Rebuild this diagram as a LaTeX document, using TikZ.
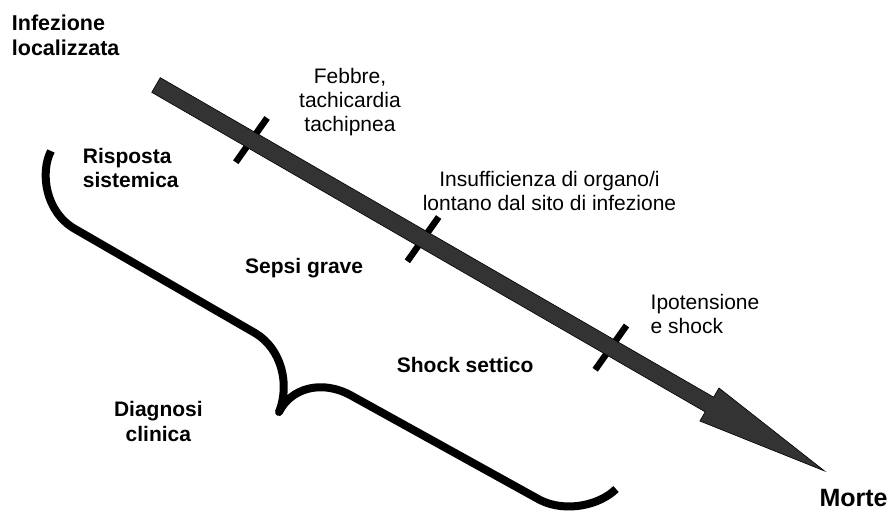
\documentclass[tikz,border=0pt]{standalone}
\usepackage{fontspec}
\setmainfont{Liberation Sans}
\begin{document}
\begin{tikzpicture}[x=1pt,y=-1pt,
  lbl/.style={inner sep=0pt, font=\fontsize{21}{25}\selectfont},
  blbl/.style={inner sep=0pt, font=\fontsize{21}{25}\selectfont\bfseries},
  tickbar/.style={line width=6.5pt, draw=black},
  bracepath/.style={line width=8pt, line join=round, draw=black},
  arrowbody/.style={fill=black!80, draw=black, line width=0.6pt, line join=miter}]
\useasboundingbox (0,0) rectangle (891,516);
% main arrow with ticks
\begin{scope}[shift={(156,85)}, rotate=-30]
  \coordinate (t1a) at (112.7,-27); \coordinate (t1b) at (107.7,27);
  \coordinate (t2a) at (310.8,-27); \coordinate (t2b) at (305.8,27);
  \coordinate (t3a) at (527.7,-27); \coordinate (t3b) at (522.7,27);
  \draw[tickbar] (t1a) -- (t1b);
  \draw[tickbar] (t2a) -- (t2b);
  \draw[tickbar] (t3a) -- (t3b);
  \coordinate (tip) at (772,0);
  \filldraw[arrowbody] (0,-8.5) -- (639,-8.5) -- (639,-19.1) -- (tip) -- (639,19.1) -- (639,8.5) -- (0,8.5) -- cycle;
\end{scope}
% brace
\coordinate (b0) at (51,151);
\coordinate (b1) at (75,229);
\coordinate (b2) at (255,333);
\coordinate (btip) at (279,412);
\coordinate (b3) at (352,396);
\coordinate (b4) at (540,500);
\coordinate (b5) at (616,489);
\draw[bracepath] (b0) .. controls (40,172) and (45,212) .. (b1) -- (b2)
  .. controls (282,349) and (290,385) .. (btip)
  .. controls (291,388) and (322,379) .. (b3) -- (b4)
  .. controls (566,513) and (600,505) .. (b5);
% labels
\node[blbl, anchor=base west, font=\fontsize{21.5}{25}\selectfont\bfseries] (inf1) at (11.7,30.7) {Infezione};
\node[blbl, anchor=base west, font=\fontsize{21.5}{25}\selectfont\bfseries] (inf2) at (11.7,56) {localizzata};
\node[lbl, anchor=base] (feb1) at (350,83.3) {Febbre,};
\node[lbl, anchor=base] (feb2) at (350,107.5) {tachicardia};
\node[lbl, anchor=base] (feb3) at (350,131.5) {tachipnea};
\node[lbl, anchor=base] (ins1) at (549.5,186) {Insufficienza di organo/i};
\node[lbl, anchor=base] (ins2) at (549.5,210) {lontano dal sito di infezione};
\node[lbl, anchor=base west] (ipo1) at (650.5,309.3) {Ipotensione};
\node[lbl, anchor=base west] (ipo2) at (650.5,333.3) {e shock};
\node[blbl, anchor=base west] (ris1) at (82.7,163.3) {Risposta};
\node[blbl, anchor=base west] (ris2) at (82.7,187.3) {sistemica};
\node[blbl, anchor=base west] (sep) at (245,273.3) {Sepsi grave};
\node[blbl, anchor=base west] (sho) at (396.7,372.7) {Shock settico};
\node[blbl, anchor=base] (dia1) at (158.4,416) {Diagnosi};
\node[blbl, anchor=base] (dia2) at (158.4,441) {clinica};
\node[blbl, anchor=base west, font=\fontsize{25}{30}\selectfont\bfseries] (mor) at (819.3,506.7) {Morte};
\end{tikzpicture}
\end{document}
